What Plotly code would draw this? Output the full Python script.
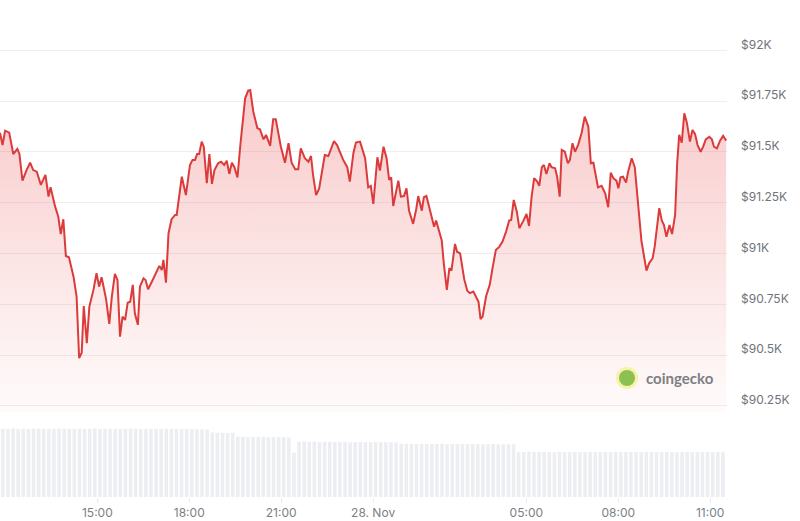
import pandas as pd
import plotly.graph_objects as go

# ---------------- data ----------------
start_time = pd.Timestamp("2025-11-27 11:49:24")
end_time = pd.Timestamp("2025-11-28 11:33:00")

# minutes elapsed since start_time
price_minutes = [
    0, 5, 10, 18, 26, 34, 38, 44, 52, 59, 65, 72, 80, 89, 95, 99, 108, 114, 119, 124,
    129, 135, 144, 150, 155, 160, 164, 170, 175, 183, 189, 194, 199, 208, 214, 219, 225, 230, 235, 240,
    245, 250, 255, 260, 264, 270, 274, 281, 285, 290, 299, 305, 312, 317, 320, 325, 330, 336, 343, 346,
    356, 364, 372, 377, 382, 386, 390, 395, 399, 405, 410, 415, 420, 427, 433, 439, 444, 449, 454, 459,
    465, 471, 480, 486, 490, 496, 504, 509, 516, 521, 529, 535, 540, 550, 558, 565, 571, 578, 584, 589,
    597, 604, 609, 613, 619, 625, 636, 643, 654, 660, 672, 680, 685, 692, 697, 705, 715, 721, 726, 731,
    739, 744, 751, 757, 762, 766, 770, 780, 785, 791, 796, 801, 809, 815, 819, 826, 830, 835, 842, 850,
    854, 858, 865, 869, 875, 880, 884, 891, 895, 901, 909, 915, 920, 927, 933, 937, 941, 945, 952, 959,
    965, 971, 978, 984, 991, 997, 1001, 1006, 1012, 1017, 1025, 1031, 1036, 1041, 1046, 1052, 1056, 1061, 1065, 1070,
    1076, 1080, 1087, 1091, 1096, 1100, 1106, 1112, 1116, 1121, 1126, 1132, 1139, 1145, 1152, 1157, 1162, 1167, 1171, 1178,
    1185, 1191, 1196, 1201, 1207, 1211, 1215, 1220, 1226, 1230, 1237, 1243, 1250, 1256, 1261, 1266, 1271, 1278, 1282, 1291,
    1296, 1300, 1305, 1311, 1316, 1322, 1326, 1330, 1335, 1340, 1345, 1351, 1356, 1361, 1366, 1372, 1377, 1382, 1389, 1394,
    1398, 1404, 1410, 1416, 1422,
]

prices_usd = [
    91594, 91534, 91605, 91595, 91490, 91515, 91490, 91359, 91411, 91447, 91411, 91403, 91338, 91387, 91280, 91326, 91231, 91182, 91096, 91169,
    90988, 90982, 90886, 90788, 90485, 90512, 90742, 90559, 90739, 90821, 90903, 90837, 90883, 90772, 90654, 90788, 90900, 90870, 90591, 90690,
    90673, 90758, 90763, 90846, 90706, 90649, 90837, 90878, 90870, 90824, 90870, 90903, 90939, 90919, 90969, 90857, 91100, 91169, 91190, 91190,
    91378, 91288, 91436, 91461, 91461, 91490, 91490, 91551, 91526, 91346, 91490, 91343, 91411, 91444, 91452, 91436, 91457, 91392, 91447, 91425,
    91375, 91543, 91764, 91802, 91805, 91698, 91617, 91612, 91562, 91584, 91530, 91661, 91661, 91526, 91447, 91543, 91447, 91415, 91415, 91518,
    91469, 91452, 91480, 91387, 91288, 91321, 91485, 91480, 91554, 91534, 91461, 91425, 91354, 91494, 91546, 91551, 91469, 91326, 91333, 91244,
    91474, 91408, 91526, 91469, 91362, 91375, 91234, 91359, 91280, 91283, 91321, 91211, 91146, 91218, 91283, 91211, 91277, 91283, 91206, 91132,
    91162, 91125, 91064, 90952, 90821, 90928, 90916, 91047, 91009, 91001, 90874, 90817, 90805, 90813, 90780, 90763, 90677, 90690, 90791, 90846,
    90936, 91018, 91034, 91059, 91108, 91162, 91165, 91264, 91206, 91125, 91162, 91195, 91136, 91280, 91371, 91354, 91333, 91425, 91436, 91392,
    91444, 91425, 91420, 91378, 91280, 91510, 91501, 91444, 91461, 91543, 91501, 91534, 91595, 91674, 91625, 91444, 91447, 91378, 91326, 91333,
    91297, 91228, 91398, 91371, 91359, 91321, 91375, 91378, 91349, 91403, 91469, 91425, 91248, 91064, 90988, 90916, 90952, 90977, 91034, 91223,
    91162, 91141, 91083, 91141, 91096, 91190, 91444, 91584, 91546, 91690, 91644, 91551, 91608, 91589, 91534, 91501, 91526, 91562, 91575, 91562,
    91526, 91518, 91556, 91579, 91556,
]

# 24h volume (billions USD), one value per 10-minute slot
volume_bn = [
    59.3, 59.0, 59.4, 59.1, 59.2, 58.9, 59.3, 59.5, 59.2, 59.0, 59.1, 59.4, 59.3, 59.2, 59.0, 59.3, 59.1, 59.2, 59.4, 59.0,
    59.2, 59.3, 59.1, 58.9, 59.2, 59.4, 59.3, 59.1, 59.0, 59.2, 59.3, 59.1, 59.2, 59.0, 58.8, 59.1, 59.0, 58.9, 58.7, 58.8,
    58.6, 55.9, 55.7, 55.8, 55.6, 55.7, 52.4, 52.3, 52.1, 52.2, 52.0, 52.1, 51.9, 52.0, 51.8, 51.9, 51.7, 38.5, 48.0, 48.2,
    47.9, 48.1, 47.8, 47.9, 48.0, 47.7, 47.8, 47.9, 47.6, 47.7, 47.8, 47.5, 47.6, 47.7, 47.4, 47.5, 47.6, 47.3, 46.2, 46.1,
    46.3, 46.0, 46.1, 46.2, 45.9, 46.0, 46.1, 45.8, 45.9, 46.0, 45.7, 45.8, 45.9, 46.0, 45.8, 45.7, 45.9, 45.8, 45.6, 45.7,
    45.8, 39.3, 39.1, 39.4, 39.0, 39.2, 39.3, 39.1, 38.9, 39.2, 39.0, 39.1, 39.3, 38.9, 39.0, 39.2, 39.1, 38.8, 39.0, 39.1,
    39.2, 38.9, 39.0, 39.1, 38.8, 39.0, 39.2, 39.1, 38.9, 39.0, 39.1, 38.8, 38.9, 39.0, 39.1, 38.9, 38.8, 39.0, 39.1, 38.9,
    39.0, 38.9,
]
volume_times = pd.date_range("2025-11-27 11:55:00", periods=len(volume_bn), freq="10min")

x_tick_times = ["2025-11-27 15:00", "2025-11-27 18:00", "2025-11-27 21:00", "2025-11-28 00:00",
                "2025-11-28 05:00", "2025-11-28 08:00", "2025-11-28 11:00"]
x_tick_labels = ["15:00", "18:00", "21:00", "28. Nov", "05:00", "08:00", "11:00"]

y_tick_values = [90250, 90500, 90750, 91000, 91250, 91500, 91750, 92000]
y_tick_labels = ["$90.25K", "$90.5K", "$90.75K", "$91K", "$91.25K", "$91.5K", "$91.75K", "$92K"]

price_times = start_time + pd.to_timedelta(price_minutes, unit="m")

# ---------------- figure ----------------
fig = go.Figure()

fig.add_trace(go.Bar(
    x=volume_times, y=volume_bn, yaxis="y2",
    marker=dict(color="#eceef2", line=dict(width=0)),
    hoverinfo="skip", showlegend=False,
))

fig.add_trace(go.Scatter(
    x=price_times, y=prices_usd, mode="lines",
    line=dict(color="#dc3b3b", width=2),
    fill="tozeroy",
    fillgradient=dict(
        type="vertical",
        colorscale=[[0, "rgba(232,60,60,0.02)"], [1, "rgba(232,60,60,0.30)"]],
        start=90220, stop=92000,
    ),
    showlegend=False,
))

FONT = "Inter, Roboto, sans-serif"

fig.update_layout(
    width=800, height=521,
    margin=dict(l=0, r=73, t=0, b=24),
    paper_bgcolor="white", plot_bgcolor="white",
    bargap=0.3,
    showlegend=False,
    xaxis=dict(
        type="date",
        anchor="y2",
        range=[start_time, end_time],
        tickvals=x_tick_times, ticktext=x_tick_labels,
        tickfont=dict(family=FONT, size=12, color="#7b7f86"),
        showgrid=False, zeroline=False, showline=False,
        ticks="outside", ticklen=5, tickcolor="#ececec",
    ),
    yaxis=dict(
        domain=[0.171, 1],
        range=[90220, 92248],
        side="right",
        tickvals=y_tick_values, ticktext=y_tick_labels,
        tickfont=dict(family=FONT, size=12, color="#6f737a"),
        ticklabelstandoff=13,
        ticklabelshift=-6,
        showgrid=True, gridcolor="#efefef", gridwidth=1,
        zeroline=False, showline=False, ticks="",
    ),
    yaxis2=dict(
        domain=[0, 0.16],
        range=[0, 69],
        visible=False,
    ),
)

# coingecko watermark
fig.add_shape(type="circle", xref="paper", yref="paper",
              xsizemode="pixel", ysizemode="pixel",
              xanchor=627 / 727, yanchor=(497 - 378) / 497,
              x0=-11, x1=11, y0=-11, y1=11,
              fillcolor="rgba(245,240,150,0.8)", line=dict(width=0))
fig.add_shape(type="circle", xref="paper", yref="paper",
              xsizemode="pixel", ysizemode="pixel",
              xanchor=627 / 727, yanchor=(497 - 378) / 497,
              x0=-8, x1=8, y0=-8, y1=8,
              fillcolor="#8cc152", line=dict(width=0))
fig.add_annotation(xref="paper", yref="paper",
                   x=644 / 727, y=(497 - 378) / 497,
                   xanchor="left", yanchor="middle", showarrow=False,
                   text="<b>coingecko</b>",
                   font=dict(family="Lato, Open Sans, sans-serif", size=15, color="#7d7f84"))

fig.write_html("out.html", config={"displayModeBar": False},
               post_script="document.body.style.margin='0';document.body.style.overflow='hidden';")
